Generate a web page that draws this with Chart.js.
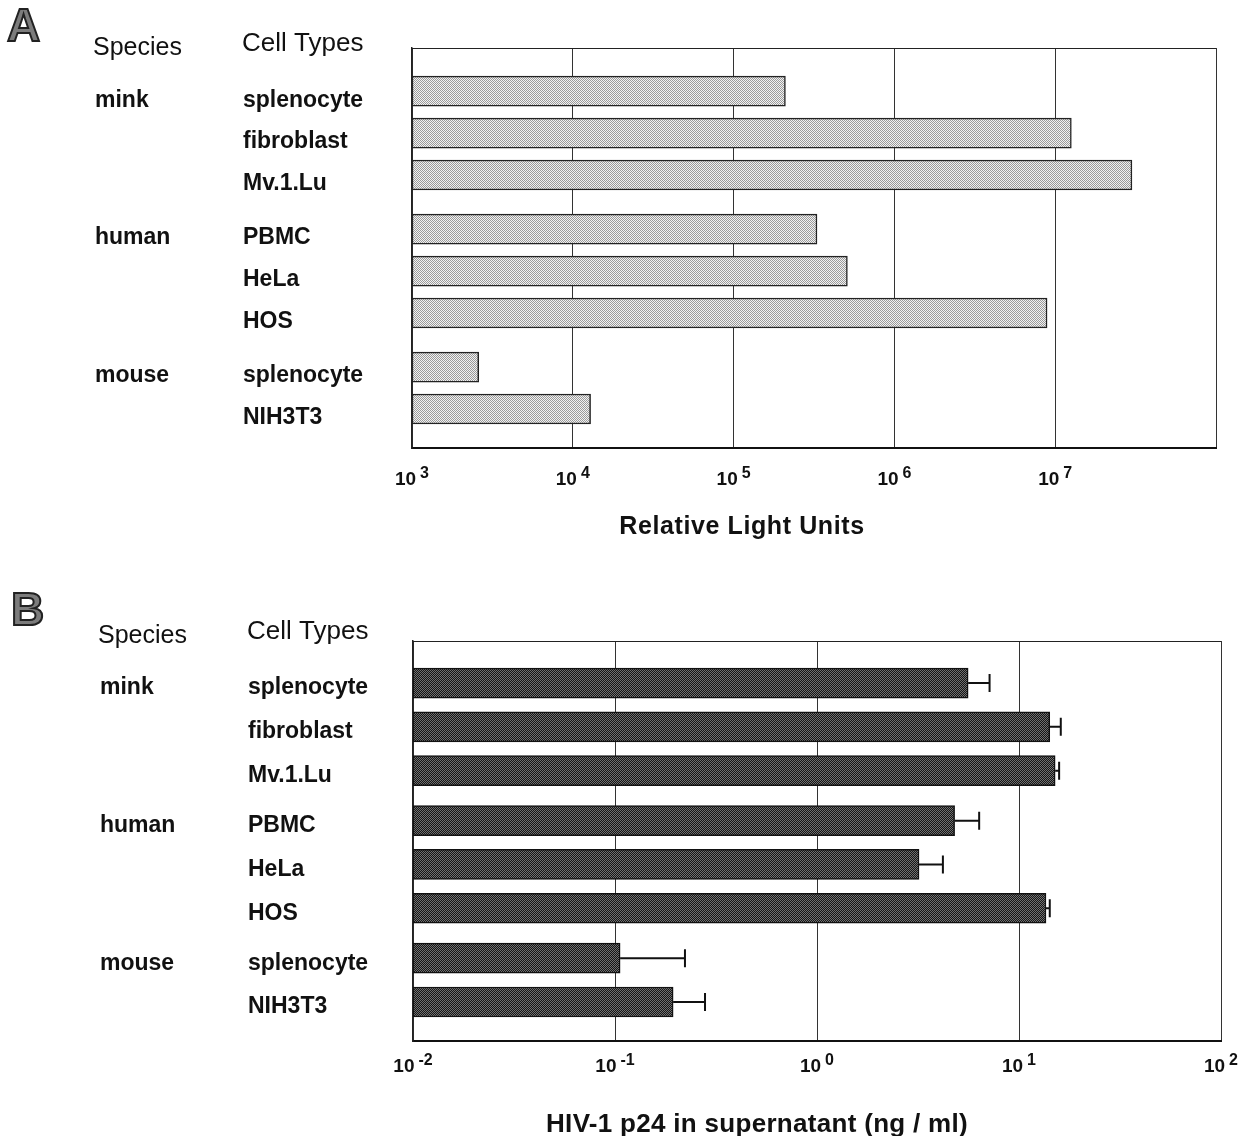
<!DOCTYPE html>
<html>
<head>
<meta charset="utf-8">
<title>Species / cell type bars</title>
<script src="https://cdn.jsdelivr.net/npm/chart.js@4.4.1/dist/chart.umd.min.js"></script>
<style>
  html, body { margin: 0; padding: 0; background: #fff; }
  .panel { position: relative; width: 1246px; height: 568px; }
</style>
</head>
<body>
<div class="panel"><canvas id="chartA"></canvas></div>
<div class="panel"><canvas id="chartB"></canvas></div>
<script>
  // ── Data ───────────────────────────────────────────────────────────────────
  const speciesNames = ["mink", "human", "mouse"];
  const cellTypes = ["splenocyte", "fibroblast", "Mv.1.Lu", "PBMC", "HeLa", "HOS", "splenocyte", "NIH3T3"];
  const speciesOfRow = [0, 0, 0, 1, 1, 1, 2, 2];

  // panel A: luciferase readout
  const lightUnits = [2.1e5, 1.26e7, 3.0e7, 3.3e5, 5.1e5, 8.9e6, 2.6e3, 1.29e4];
  const rluTickExps = [3, 4, 5, 6, 7, 8];
  const rluTickLabels = ["3", "4", "5", "6", "7", ""];

  // panel B: p24 ELISA, mean + error
  const p24Values = [5.6, 14.2, 15.1, 4.8, 3.2, 13.6, 0.106, 0.194];
  const p24Errors = [1.55, 1.9, 0.7, 1.55, 1.0, 0.6, 0.116, 0.085];
  const p24TickExps = [-2, -1, 0, 1, 2];
  const p24TickLabels = ["-2", "-1", "0", "1", "2"];

  const FONT = '"Liberation Sans", Arial, Helvetica, sans-serif';
  Chart.defaults.font.family = FONT;
  Chart.defaults.color = "#111";

  function stipple(ctx, a, b) {
    const c = document.createElement("canvas");
    c.width = 2; c.height = 2;
    const g = c.getContext("2d");
    g.fillStyle = a; g.fillRect(0, 0, 2, 2);
    g.fillStyle = b; g.fillRect(0, 0, 1, 1); g.fillRect(1, 1, 1, 1);
    return ctx.createPattern(c, "repeat");
  }

  function drawPow(ctx, x, y, exp) {
    ctx.font = "bold 19px " + FONT;
    const wb = ctx.measureText("10").width;
    ctx.font = "bold 16px " + FONT;
    const we = ctx.measureText(exp).width;
    const gap = 4;
    const left = x - (wb + gap + we) / 2;
    ctx.textAlign = "left";
    ctx.textBaseline = "alphabetic";
    ctx.font = "bold 19px " + FONT;
    ctx.fillText("10", left, y);
    ctx.font = "bold 16px " + FONT;
    ctx.fillText(exp, left + wb + gap, y - 7);
  }

  // ── Panel builder ──────────────────────────────────────────────────────────
  function makePanel(id, p) {
    const canvas = document.getElementById(id);
    const ctx = canvas.getContext("2d");
    const rowPos = cellTypes.map((_, i) => i + speciesOfRow[i] * p.groupGap);
    const data = p.values.map((v, i) => ({ x: v, y: rowPos[i] }));

    const decor = {
      id: "decor",
      afterDatasetsDraw(chart) {
        if (!p.errors) return;
        const c = chart.ctx, xs = chart.scales.x;
        const meta = chart.getDatasetMeta(0);
        c.save();
        c.strokeStyle = "#111";
        c.lineWidth = 2;
        meta.data.forEach((bar, i) => {
          const x0 = xs.getPixelForValue(p.values[i]);
          const x1 = xs.getPixelForValue(p.values[i] + p.errors[i]);
          c.beginPath();
          c.moveTo(x0, bar.y); c.lineTo(x1, bar.y);
          c.moveTo(x1, bar.y - 9); c.lineTo(x1, bar.y + 9);
          c.stroke();
        });
        c.restore();
      },
      afterDraw(chart) {
        const c = chart.ctx, xs = chart.scales.x, ys = chart.scales.y, a = chart.chartArea;
        c.save();
        // top frame line
        c.strokeStyle = "#222"; c.lineWidth = 1.2;
        c.beginPath(); c.moveTo(a.left, a.top + 0.5); c.lineTo(a.right, a.top + 0.5); c.stroke();

        // panel letter
        c.font = "900 46px " + FONT;
        c.textAlign = "left"; c.textBaseline = "middle";
        c.fillStyle = "#7c7c7c"; c.strokeStyle = "#222"; c.lineWidth = 2;
        c.fillText(p.letter, p.letterX, p.letterY);
        c.strokeText(p.letter, p.letterX, p.letterY);

        // column headers
        c.fillStyle = "#111";
        c.font = "25px " + FONT;
        c.fillText("Species", p.speciesX - 2, p.headY + 4);
        c.font = "26px " + FONT;
        c.fillText("Cell Types", p.cellX - 1, p.headY);

        // species names at first row of each group
        c.font = "bold 23px " + FONT;
        speciesNames.forEach((name, g) => {
          const first = speciesOfRow.indexOf(g);
          c.fillText(name, p.speciesX, ys.getPixelForValue(rowPos[first]) + p.labelOffset);
        });

        // decade tick labels with superscript exponent
        p.tickExps.forEach((e, i) => {
          if (!p.tickLabels[i]) return;
          drawPow(c, xs.getPixelForValue(Math.pow(10, e)), p.tickY, p.tickLabels[i]);
        });

        // axis title
        c.font = "bold " + p.titleSize + "px " + FONT;
        c.letterSpacing = p.titleSpacing;
        c.textAlign = "center"; c.textBaseline = "middle";
        c.fillText(p.title, p.titleX, p.titleY);
        c.letterSpacing = "0px";
        c.restore();
      }
    };

    return new Chart(canvas, {
      type: "bar",
      data: {
        datasets: [{
          data,
          backgroundColor: stipple(ctx, p.fillA, p.fillB),
          borderColor: p.edge,
          borderWidth: 1.5,
          borderSkipped: false,
          barThickness: 30
        }]
      },
      options: {
        indexAxis: "y",
        responsive: true,
        maintainAspectRatio: false,
        animation: false,
        layout: { padding: { left: p.cellX, right: p.padRight, top: p.padTop, bottom: 0 } },
        plugins: { legend: { display: false }, tooltip: { enabled: false } },
        scales: {
          x: {
            type: "logarithmic",
            min: Math.pow(10, p.tickExps[0]),
            max: Math.pow(10, p.tickExps[p.tickExps.length - 1]),
            afterBuildTicks: s => { s.ticks = p.tickExps.map(e => ({ value: Math.pow(10, e) })); },
            afterFit: s => { s.height = p.xAxisHeight; },
            ticks: { display: false },
            grid: { color: "#333", lineWidth: 1, drawTicks: false },
            border: { display: true, color: "#111", width: 2 }
          },
          y: {
            type: "linear",
            reverse: true,
            offset: false,
            min: p.yMin,
            max: p.yMax,
            afterBuildTicks: s => { s.ticks = rowPos.map(v => ({ value: v })); },
            afterFit: s => { s.width = p.yAxisWidth; },
            ticks: {
              autoSkip: false,
              crossAlign: "far",
              labelOffset: p.labelOffset,
              color: "#111",
              font: { size: 23, weight: "bold" },
              callback: (v, i) => cellTypes[i]
            },
            grid: { display: false, drawTicks: false },
            border: { display: true, color: "#222", width: 1.5 }
          }
        }
      },
      plugins: [decor]
    });
  }

  makePanel("chartA", {
    values: lightUnits, errors: null,
    tickExps: rluTickExps, tickLabels: rluTickLabels,
    fillA: "#f2f2f2", fillB: "#9a9a9a", edge: "#222",
    groupGap: 0.29, yMin: -1.03, yMax: 8.51,
    cellX: 243, yAxisWidth: 169, padRight: 30, padTop: 48, xAxisHeight: 120,
    labelOffset: 9, speciesX: 95, headY: 44,
    letter: "A", letterX: 7, letterY: 28,
    tickY: 485, title: "Relative Light Units", titleSize: 25, titleSpacing: "0.6px", titleX: 742, titleY: 527
  });

  makePanel("chartB", {
    values: p24Values, errors: p24Errors,
    tickExps: p24TickExps, tickLabels: p24TickLabels,
    fillA: "#161616", fillB: "#707070", edge: "#111",
    groupGap: 0.14, yMin: -0.96, yMax: 8.17,
    cellX: 248, yAxisWidth: 165, padRight: 25, padTop: 73, xAxisHeight: 95,
    labelOffset: 5, speciesX: 100, headY: 64,
    letter: "B", letterX: 11, letterY: 44,
    tickY: 504, title: "HIV-1 p24 in supernatant (ng / ml)", titleSize: 26, titleSpacing: "0.3px", titleX: 757, titleY: 557
  });
</script>
</body>
</html>
